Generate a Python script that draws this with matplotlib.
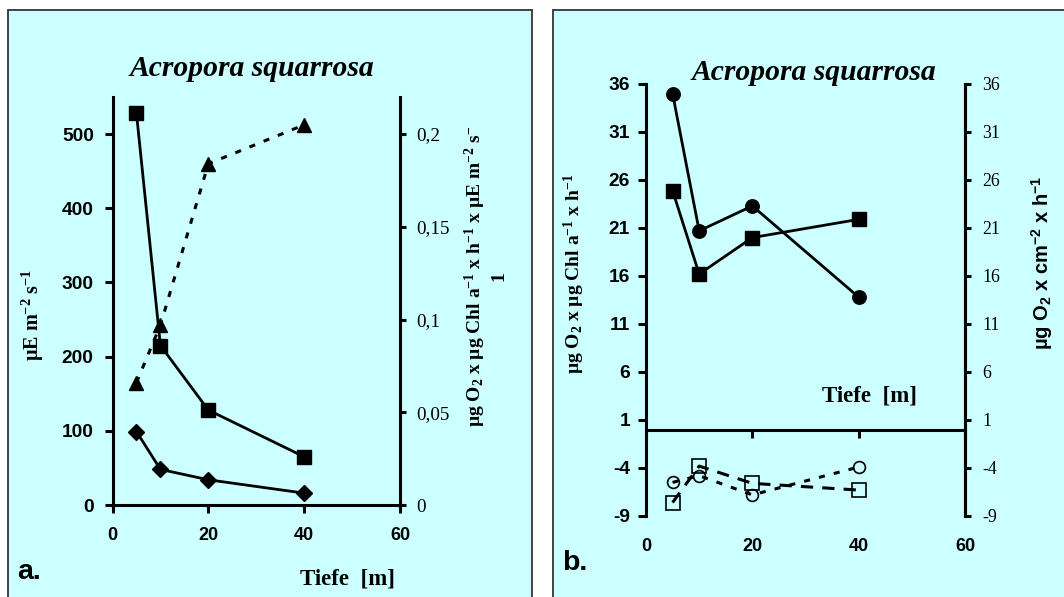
import numpy as np
import matplotlib.pyplot as plt
from matplotlib.patches import Rectangle

plt.rcParams['mathtext.fontset'] = 'custom'
plt.rcParams['mathtext.rm'] = 'Liberation Serif:bold'
plt.rcParams['mathtext.bf'] = 'Liberation Serif:bold'
plt.rcParams['mathtext.sf'] = 'Liberation Sans:bold'
plt.rcParams['mathtext.default'] = 'rm'

W, H = 1064, 597
bg = '#CCFFFF'

# depth in m
depth = [5, 10, 20, 40]

# panel a: light parameters (left axis) and efficiency (right axis)
ik = [528, 215, 128, 65]
ic = [99, 48, 34, 16]
alpha = [0.066, 0.097, 0.184, 0.205]
a_left_ticks = [0, 100, 200, 300, 400, 500]
a_right_ticks = [0, 0.05, 0.1, 0.15, 0.2]
a_right_labels = ['0', '0,05', '0,1', '0,15', '0,2']

# panel b: gross production and respiration
pmax_chl = [35.0, 20.7, 23.3, 13.8]
pmax_area = [24.9, 16.2, 20.0, 21.9]
resp_chl = [-5.5, -4.8, -6.8, -3.9]
resp_area = [-7.6, -3.8, -5.6, -6.3]
b_ticks = [36, 31, 26, 21, 16, 11, 6, 1, -4, -9]

x_ticks = [0, 20, 40, 60]


def fx(px):
    return px / W


def fy(py):
    return 1 - py / H


def box(x0, y0, x1, y1):
    return [fx(x0), fy(y1), fx(x1) - fx(x0), fy(y0) - fy(y1)]


fig = plt.figure(figsize=(W / 100, H / 100), dpi=100)

# panel backgrounds
for x0, x1 in [(8, 532), (553, 1075)]:
    fig.patches.append(Rectangle((fx(x0), fy(610)), fx(x1) - fx(x0), fy(10) - fy(610),
                                 transform=fig.transFigure, fc=bg, ec='#333333', lw=1.3,
                                 zorder=-5, clip_on=False))

sans_b = dict(family='Liberation Sans', weight='bold')
serif_b = dict(family='Liberation Serif', weight='bold')
serif = dict(family='Liberation Serif')
lw_sp = 2.2
lw_line = 2.0


def style_ax(ax):
    ax.set_facecolor('none')
    for s in ax.spines.values():
        s.set_linewidth(lw_sp)
    ax.spines['top'].set_visible(False)
    ax.tick_params(width=lw_sp, length=5.5)


# ---------- panel a ----------
ax = fig.add_axes(box(112.5, 97, 400, 505))
style_ax(ax)
ax.spines['right'].set_visible(False)
ax.plot(depth, ik, '-s', color='black', lw=lw_line, ms=10.5, clip_on=False, zorder=3)
ax.plot(depth, ic, '-D', color='black', lw=lw_line, ms=8.5, clip_on=False, zorder=3)
ax.set_xlim(0, 60)
ax.set_ylim(0, 550)
ax.set_xticks(x_ticks)
ax.set_yticks(a_left_ticks)
ax.set_xticklabels([str(t) for t in x_ticks], fontdict=dict(size=13, **sans_b))
ax.set_yticklabels([str(t) for t in a_left_ticks], fontdict=dict(size=13.8, **sans_b))
ax.tick_params(axis='x', pad=10)
ax.tick_params(axis='y', pad=8)

ax2 = ax.twinx()
style_ax(ax2)
ax2.spines['left'].set_visible(False)
ax2.spines['bottom'].set_visible(False)
ax2.plot(depth, alpha, '^', color='black', ls=(0, (2, 3)), lw=2.2, ms=10, clip_on=False)
ax2.set_ylim(0, 0.22)
ax2.set_yticks(a_right_ticks)
ax2.set_yticklabels(a_right_labels, fontdict=dict(size=13.8, **serif))
ax2.tick_params(axis='y', pad=7, length=4.5)

fig.text(fx(252), fy(68), 'Acropora squarrosa', ha='center', va='center', size=21.3,
         family='Liberation Serif', weight='bold', style='italic')
fig.text(fx(33), fy(315), r'µE m$^{-2}$ s$^{-1}$', rotation=90, ha='center', va='center',
         size=14.5, **serif_b)
fig.text(fx(485), fy(276), 'µg O$_{2}$ x µg Chl a$^{-1}$ x h$^{-1}$ x µE m$^{-2}$ s$^{-}$\n1',
         rotation=90, ha='center', va='center', multialignment='center', size=14,
         linespacing=1.2, **serif_b)
fig.text(fx(348), fy(579), 'Tiefe  [m]', ha='center', va='center', size=16.5, **serif_b)
fig.text(fx(17), fy(572), 'a.', ha='left', va='center', size=20.5, **sans_b)

# ---------- panel b ----------
bx = fig.add_axes(box(646, 84, 965, 516))
style_ax(bx)
bx.spines['bottom'].set_position(('data', 0))
bx.plot(depth, pmax_chl, '-o', color='black', lw=lw_line, ms=9.7, clip_on=False, zorder=3)
bx.plot(depth, pmax_area, '-s', color='black', lw=lw_line, ms=10, clip_on=False, zorder=3)
bx.plot(depth, resp_chl, 'o', color='black', mfc='none', mew=1.2, ls=(0, (2, 3)), lw=2.2,
        ms=8.5, clip_on=False, zorder=3)
bx.plot(depth, resp_area, 's', color='black', mfc='none', mew=1.2, ls=(0, (4, 3)), lw=2.2,
        ms=9.5, clip_on=False, zorder=3)
bx.set_xlim(0, 60)
bx.set_ylim(-9, 36)
bx.set_xticks(x_ticks)
bx.set_xticklabels([])
bx.set_yticks(b_ticks)
bx.set_yticklabels([str(t) for t in b_ticks], fontdict=dict(size=13.8, **sans_b))
bx.tick_params(axis='y', pad=6)

sec = bx.secondary_xaxis(0)
sec.spines['bottom'].set_visible(False)
sec.set_xticks(x_ticks)
sec.set_xticklabels([str(t) for t in x_ticks], fontdict=dict(size=13, **sans_b))
sec.tick_params(length=0, pad=16)

bx2 = bx.twinx()
style_ax(bx2)
bx2.spines['left'].set_visible(False)
bx2.spines['bottom'].set_visible(False)
bx2.set_ylim(-9, 36)
bx2.set_yticks(b_ticks)
bx2.set_yticklabels([str(t) for t in b_ticks], fontdict=dict(size=12.8, **serif))
bx2.tick_params(axis='y', pad=8, length=4.5)

fig.text(fx(814), fy(73), 'Acropora squarrosa', ha='center', va='center', size=21.3,
         family='Liberation Serif', weight='bold', style='italic')
fig.text(fx(574), fy(274), 'µg O$_{2}$ x µg Chl a$^{-1}$ x h$^{-1}$', rotation=90,
         ha='center', va='center', size=14, **serif_b)
fig.text(fx(1042), fy(263), r'µg O$_\mathsf{2}$ x cm$^\mathsf{-2}$ x h$^\mathsf{-1}$',
         rotation=90, ha='center', va='center', size=14.5, **sans_b)
fig.text(fx(870), fy(396), 'Tiefe  [m]', ha='center', va='center', size=16.5, **serif_b)
fig.text(fx(562), fy(563), 'b.', ha='left', va='center', size=20.5, **sans_b)

fig.savefig('out.png', dpi=100, facecolor='white')
